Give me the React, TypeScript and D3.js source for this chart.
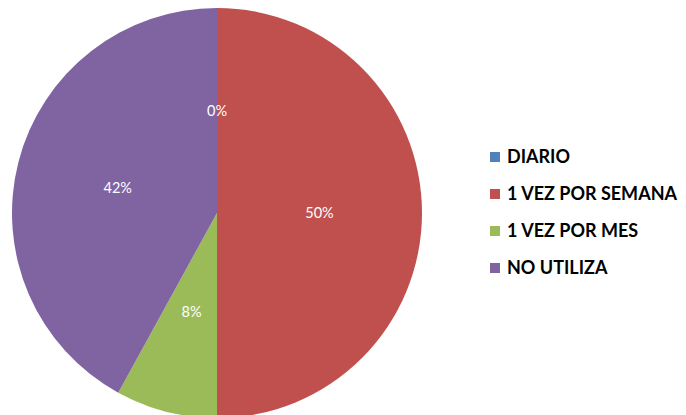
import React from "react";
import * as d3 from "d3";

const categories = ["DIARIO", "1 VEZ POR SEMANA", "1 VEZ POR MES", "NO UTILIZA"];
const values = [0, 50, 8, 42];
const colors = ["#4F81BD", "#C0504D", "#9BBB59", "#8064A2"];

export default function App() {
  const W = 686, H = 415;
  const cx = 217, cy = 213, R = 205;
  const pie = d3.pie<number>().sort(null).value((d) => d)(values);
  const arc = d3.arc<d3.PieArcDatum<number>>().innerRadius(0).outerRadius(R);
  const labelArc = d3.arc<d3.PieArcDatum<number>>().innerRadius(R / 2).outerRadius(R / 2);
  const total = d3.sum(values);
  const legendY = d3.scalePoint<string>().domain(categories).range([157, 268]);
  return (
    <svg width={W} height={H} style={{ position: "absolute", left: 0, top: 0, background: "#fff" }}>
      <g transform={`translate(${cx},${cy})`}>
        {pie.map((p, i) => (
          <path key={i} d={arc(p) || ""} fill={colors[i]} />
        ))}
        {pie.map((p, i) => {
          const [x, y] = labelArc.centroid(p);
          return (
            <text key={i} x={x} y={y} dy="0.35em" textAnchor="middle" fill="#fff"
              fontFamily="Lato, 'Open Sans', sans-serif" fontSize={14.5}>
              {`${Math.round((values[i] / total) * 100)}%`}
            </text>
          );
        })}
      </g>
      {categories.map((c, i) => (
        <g key={c} transform={`translate(490,${legendY(c)})`}>
          <rect x={0} y={-5} width={10} height={10} fill={colors[i]} />
          <text x={17} y={0} dy="0.35em" fontFamily="Lato, 'Open Sans', sans-serif" fontWeight="bold" fontSize={18} fill="#000">
            {c}
          </text>
        </g>
      ))}
    </svg>
  );
}
